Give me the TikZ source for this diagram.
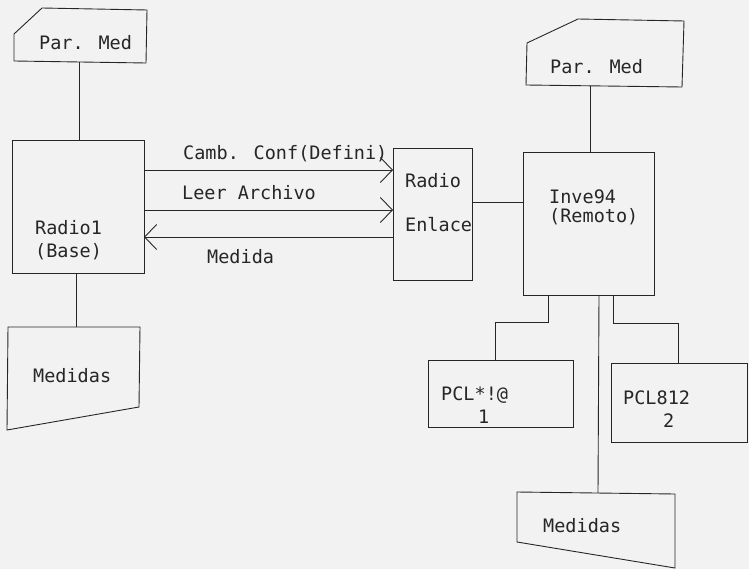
\documentclass[tikz,border=0pt]{standalone}
\usepackage{fontspec}
\setmainfont{DejaVu Sans Mono}
\usetikzlibrary{arrows.meta}
\tikzset{
  ln/.style={line width=0.9pt, draw=black!85},
  boxr/.style={ln, rectangle, inner sep=0pt, outer sep=0pt},
  lbl/.style={anchor=base west, inner sep=0pt, text=black!85, font=\fontsize{18.5}{21}\selectfont},
  arr/.style={ln, -{Straight Barb[length=12pt,width=25pt,line width=0.9pt]}},
}
\begin{document}
\begin{tikzpicture}[x=1pt,y=-1pt]
\useasboundingbox (0,0) rectangle (749,569);
\fill[black!5] (0,0) rectangle (749,569);

% boxes
\node[boxr, minimum width=132pt, minimum height=133pt] (radio1) at (78,206.5) {};
\node[boxr, minimum width=79pt, minimum height=132pt] (enlace) at (432.5,214) {};
\node[boxr, minimum width=131pt, minimum height=143pt] (inve) at (588.5,223.5) {};
\node[boxr, minimum width=145pt, minimum height=67pt] (pcl1) at (500.5,393.5) {};
\node[boxr, minimum width=136pt, minimum height=79pt] (pcl2) at (679,402.5) {};

% Par. Med (left)
\draw[ln] (14,34) -- (42,8) -- (147,10) -- (146,63) -- (14,61) -- cycle;
\coordinate (pmlb) at (79,62);
% Par. Med (right)
\draw[ln] (527,43) -- (578,19) -- (684,21) -- (682,87) -- (526,85) -- cycle;
\coordinate (pmrb) at (590,86);
% Medidas (left)
\draw[ln] (8,327) -- (140,327) -- (139,407) -- (7,430) -- cycle;
\coordinate (mdlt) at (76,327);
% Medidas (right)
\draw[ln] (517,492) -- (675,494) -- (675,568) -- (517,542) -- cycle;
\coordinate (mdrt) at (598,493);

% texts
\node[lbl] (t1) at (39,50) {Par. Med};
\node[lbl] (t2) at (550,74) {Par. Med};
\node[lbl] (t3) at (35,235) {Radio1};
\node[lbl] (t4) at (35,258) {(Base)};
\node[lbl] (t5) at (405,188) {Radio};
\node[lbl] (t6) at (405,232) {Enlace};
\node[lbl] (t7) at (549,204) {Inve94};
\node[lbl] (t8) at (549,223) {(Remoto)};
\node[lbl] (t9) at (441,400) {PCL*!@};
\node[lbl] (t10) at (478,423) {1};
\node[lbl] (t11) at (623,404) {PCL812};
\node[lbl] (t12) at (663,427) {2};
\node[lbl] (t13) at (33,382) {Medidas};
\node[lbl] (t14) at (543,532) {Medidas};
\node[lbl] (t15) at (183,160) {Camb. Conf(Defini)};
\node[lbl] (t16) at (182,200) {Leer Archivo};
\node[lbl] (t17) at (207,263) {Medida};

% connectors
\draw[ln] (pmlb) -- (pmlb |- radio1.north);
\draw[ln] (mdlt |- radio1.south) -- (mdlt);
\draw[ln] (pmrb) -- (pmrb |- inve.north);
\coordinate (y1) at (0,170);
\coordinate (y2) at (0,210);
\coordinate (y3) at (0,237);
\draw[arr] (radio1.east |- y1) -- (enlace.west |- y1);
\draw[arr] (radio1.east |- y2) -- (enlace.west |- y2);
\draw[arr] (enlace.west |- y3) -- (radio1.east |- y3);
\coordinate (y4) at (0,202);
\draw[ln] (enlace.east |- y4) -- (inve.west |- y4);
\coordinate (c1) at (548,322);
\coordinate (c2) at (495,322);
\draw[ln] (c1 |- inve.south) -- (c1) -- (c2) -- (c2 |- pcl1.north);
\coordinate (c3) at (613,323);
\coordinate (c4) at (678,323);
\draw[ln] (c3 |- inve.south) -- (c3) -- (c4) -- (c4 |- pcl2.north);
\draw[ln] (599,295) -- (mdrt);
\end{tikzpicture}
\end{document}
